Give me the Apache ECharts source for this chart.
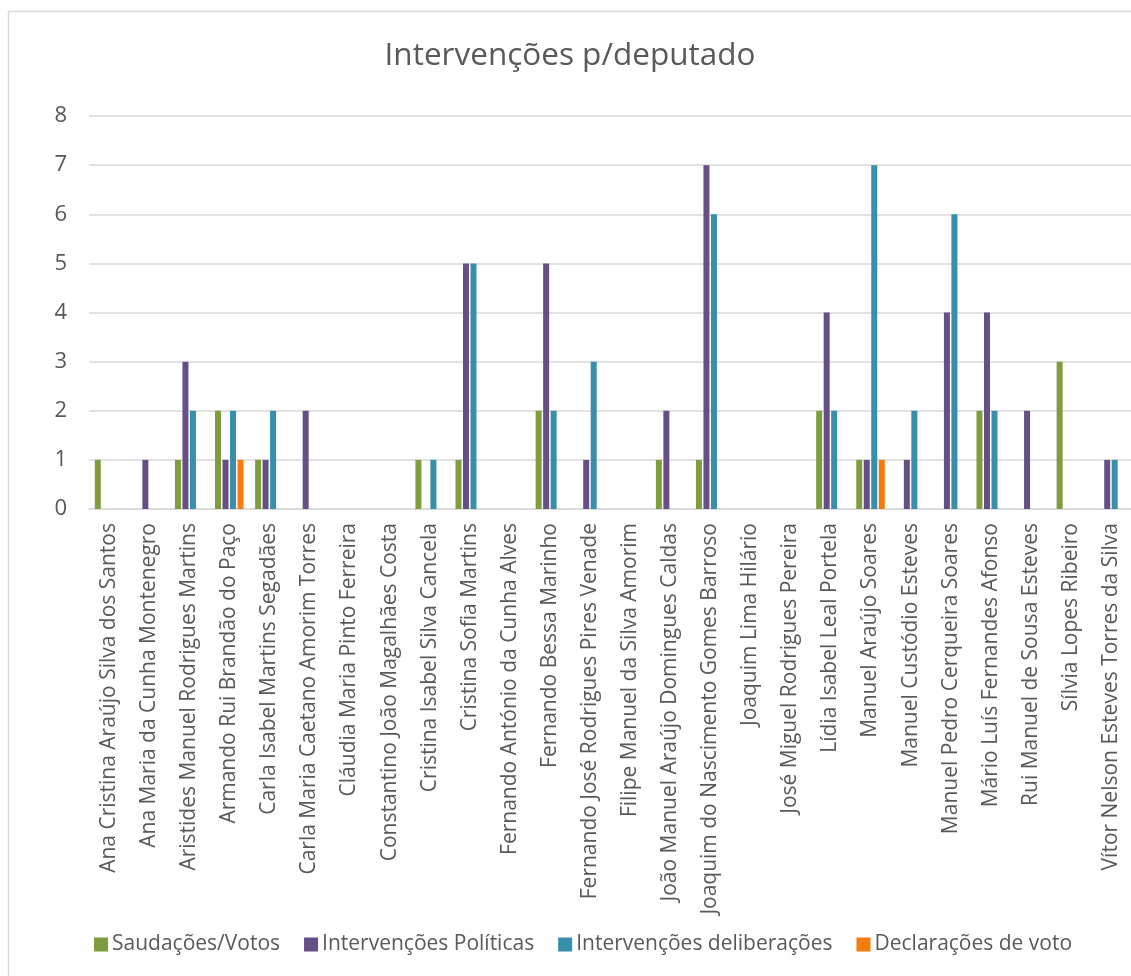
<!DOCTYPE html>
<html>
<head>
<meta charset="utf-8">
<script src="https://cdn.jsdelivr.net/npm/echarts@6/dist/echarts.min.js"></script>
<style>html,body{margin:0;padding:0;background:#fff;}#c{width:1131px;height:976px;}</style>
</head>
<body>
<div id="c"></div>
<script>
const categories = [
  "Ana Cristina Araújo Silva dos Santos",
  "Ana Maria da Cunha Montenegro",
  "Aristides Manuel Rodrigues Martins",
  "Armando Rui Brandão do Paço",
  "Carla Isabel Martins Segadães",
  "Carla Maria Caetano Amorim Torres",
  "Cláudia Maria Pinto Ferreira",
  "Constantino João Magalhães Costa",
  "Cristina Isabel Silva Cancela",
  "Cristina Sofia Martins",
  "Fernando António da Cunha Alves",
  "Fernando Bessa Marinho",
  "Fernando José Rodrigues Pires Venade",
  "Filipe Manuel da Silva Amorim",
  "João Manuel Araújo Domingues Caldas",
  "Joaquim do Nascimento Gomes Barroso",
  "Joaquim Lima Hilário",
  "José Miguel Rodrigues Pereira",
  "Lídia Isabel Leal Portela",
  "Manuel Araújo Soares",
  "Manuel Custódio Esteves",
  "Manuel Pedro Cerqueira Soares",
  "Mário Luís Fernandes Afonso",
  "Rui Manuel de Sousa Esteves",
  "Sílvia Lopes Ribeiro",
  "Vítor Nelson Esteves Torres da Silva"
];
const saudacoesVotos        = [1,0,1,2,1,0,0,0,1,1,0,2,0,0,1,1,0,0,2,1,0,0,2,0,3,0];
const intervencoesPoliticas = [0,1,3,1,1,2,0,0,0,5,0,5,1,0,2,7,0,0,4,1,1,4,4,2,0,1];
const intervencoesDelib     = [0,0,2,2,2,0,0,0,1,5,0,2,3,0,0,6,0,0,2,7,2,6,2,0,0,1];
const declaracoesVoto       = [0,0,0,1,0,0,0,0,0,0,0,0,0,0,0,0,0,0,0,1,0,0,0,0,0,0];
const seriesNames = ["Saudações/Votos","Intervenções Políticas","Intervenções deliberações","Declarações de voto"];
const yTicks = [0,1,2,3,4,5,6,7,8];

const colors = ['#7f9c3f','#654f86','#378fa9','#f57c0d'];
const font = '"Open Sans", "Liberation Sans", sans-serif';
const chart = echarts.init(document.getElementById('c'), null, {renderer:'canvas'});
const dataSets = [saudacoesVotos, intervencoesPoliticas, intervencoesDelib, declaracoesVoto];

chart.setOption({
  animation: false,
  backgroundColor: '#ffffff',
  color: colors,
  title: {
    text: 'Intervenções p/deputado',
    left: 565, top: 35,
    textAlign: 'center',
    textStyle: {fontFamily: font, fontSize: 31.5, fontWeight: 'normal', color: '#595959'}
  },
  graphic: [{
    type: 'rect', silent: true, z: -1,
    shape: {x: 8.5, y: 11.5, width: 2000, height: 2000},
    style: {fill: 'none', stroke: '#d9d9d9', lineWidth: 1.5}
  }],
  legend: {
    data: seriesNames,
    left: 89, top: 929,
    itemWidth: 14, itemHeight: 14, itemGap: 24,
    icon: 'rect',
    textStyle: {fontFamily: font, fontSize: 21, color: '#595959', padding: [0,0,0,-1]}
  },
  grid: {left: 89, top: 116, width: 1053, height: 393, containLabel: false},
  xAxis: {
    type: 'category',
    data: categories,
    axisTick: {show: false},
    axisLine: {lineStyle: {color: '#d9d9d9', width: 1.5}},
    axisLabel: {rotate: 90, interval: 0, margin: 14, fontFamily: font, fontSize: 21, color: '#595959'}
  },
  yAxis: {
    type: 'value', min: yTicks[0], max: yTicks[yTicks.length-1], interval: 1,
    axisLine: {show: false}, axisTick: {show: false},
    splitLine: {lineStyle: {color: '#d9d9d9', width: 1.5}},
    axisLabel: {margin: 22, fontFamily: font, fontSize: 22, color: '#595959'}
  },
  series: seriesNames.map((n, i) => ({
    name: n, type: 'bar', data: dataSets[i],
    barWidth: 6, barGap: '25%',
    itemStyle: {color: colors[i]}
  }))
});
</script>
</body>
</html>
